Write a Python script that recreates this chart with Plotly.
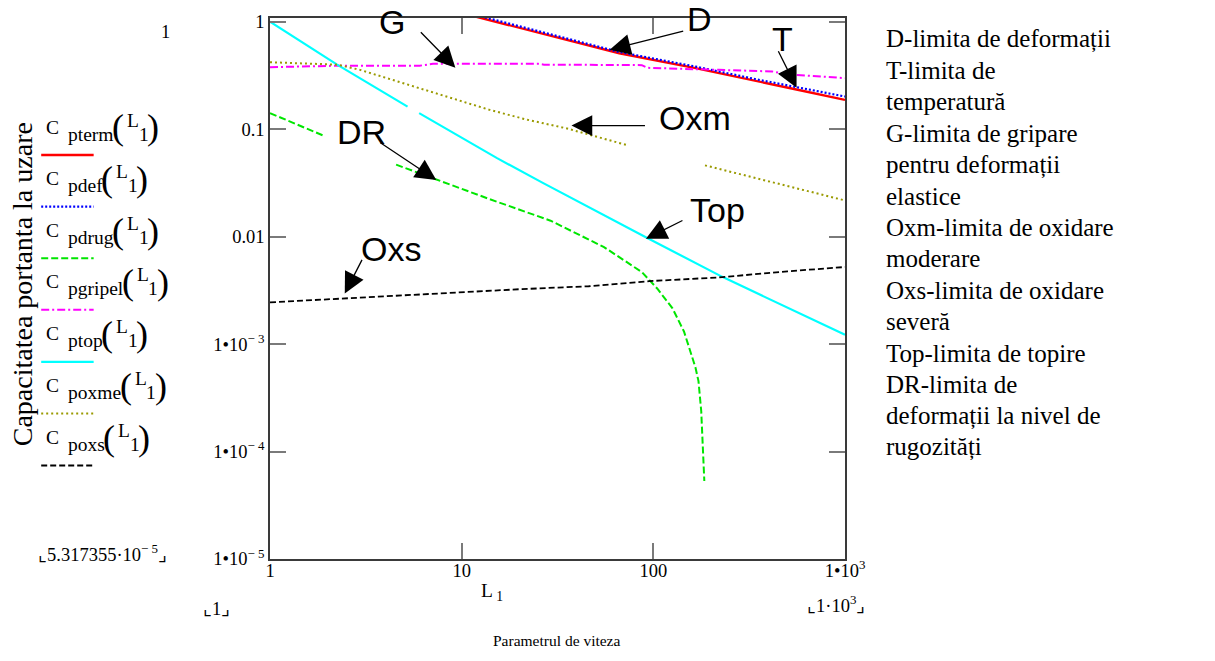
import math
import plotly.graph_objects as go

# ---------------- data ----------------
L_pterm = [10, 12.8, 31.6, 66.4, 166, 347, 550, 1000]
C_pterm = [1.202, 1.074, 0.708, 0.508, 0.369, 0.277, 0.235, 0.187]

L_pdef = [10, 12.6, 31.6, 66.4, 166, 347, 550, 1000]
C_pdef = [1.245, 1.122, 0.733, 0.522, 0.382, 0.290, 0.248, 0.201]

L_pdrug = [1, 1.91, None, 4.55, 7.36, 14.0, 29.1, 55.3, 87.1, 104.7, 125.9, 144.5, 166, 172, 177.8, 182, 184.5]
C_pdrug = [0.141, 0.0867, None, 0.0467, 0.0339, 0.0223, 0.01406, 0.00798, 0.00468, 0.00329, 0.00215,
           0.00131, 0.000603, 0.000452, 0.000237, 0.000102, 0.00005317355]

L_pgripel = [1, 2.24, 6.03, 7.08, 25.1, 26.9, 87.1, 93.3, 219, 417, 501, 1000]
C_pgripel = [0.377, 0.389, 0.389, 0.405, 0.405, 0.398, 0.394, 0.372, 0.356, 0.344, 0.324, 0.298]

L_ptop = [1, 2.24, 5.22, None, 6.0, 15.3, 26.5, 42.0, 91.4, 229, 1000]
C_ptop = [1, 0.398, 0.162, None, 0.141, 0.0537, 0.0316, 0.0204, 0.00986, 0.00422, 0.00122]

L_poxme = [1, 1.63, 2.24, 2.95, 4.06, 7.03, 14.0, 22.1, 35.0, 72.1, None, 186, 398, 1000]
C_poxme = [0.419, 0.410, 0.398, 0.356, 0.298, 0.219, 0.151, 0.122, 0.102, 0.0714, None, 0.046, 0.0328, 0.0217]

L_poxs = [1, 2.455, 8.07, 20.2, 46.0, 95.5, 219, 501, 1000]
C_poxs = [0.002443, 0.00266, 0.00296, 0.00324, 0.00345, 0.00385, 0.00417, 0.00475, 0.00521]

x_tickvals = [1, 10, 100, 1000]
x_ticktext = ["1", "10", "100", "1\u202210<sup>3</sup>"]
y_tickvals = [1, 0.1, 0.01, 0.001, 0.0001, 0.00001]
y_ticktext = ["1", "0.1", "0.01", "1\u202210<sup>\u2212 3</sup>",
              "1\u202210<sup>\u2212 4</sup>", "1\u202210<sup>\u2212 5</sup>"]

series_names = ["pterm", "pdef", "pdrug", "pgripel", "ptop", "poxme", "poxs"]

arrow_labels = ["G", "D", "T", "Oxm", "DR", "Top", "Oxs"]
arrow_tip_L = [9.27, 59.2, 559, 37.4, 7.37, 91.5, 2.455]
arrow_tip_C = [0.373, 0.547, 0.243, 0.108, 0.0336, 0.00955, 0.00296]

notes = ["D-limita de deformații", "T-limita de", "temperatură", "G-limita de gripare",
         "pentru deformații", "elastice", "Oxm-limita de oxidare", "moderare",
         "Oxs-limita de oxidare", "severă", "Top-limita de topire", "DR-limita de",
         "deformații la nivel de", "rugozități"]

# ---------------- styles / layout geometry ----------------
W_FIG, H_FIG = 1215, 661
PL, PR, PT, PB = 269.5, 845.0, 15.0, 559.0
PW, PH = PR - PL, PB - PT


def pxx(p):
    return (p - PL) / PW


def pxy(p):
    return (PB - p) / PH


styles = [
    dict(color="#FF0000", width=2.4, dash="solid"),
    dict(color="#0000FF", width=2.2, dash="2px,2px"),
    dict(color="#00E600", width=2.0, dash="7px,3px"),
    dict(color="#FF00FF", width=2.0, dash="8px,3px,2px,3px"),
    dict(color="#00FFFF", width=2.2, dash="solid"),
    dict(color="#9A9A00", width=2.0, dash="2px,3px"),
    dict(color="#000000", width=1.8, dash="6px,3px"),
]
xs = [L_pterm, L_pdef, L_pdrug, L_pgripel, L_ptop, L_poxme, L_poxs]
ys = [C_pterm, C_pdef, C_pdrug, C_pgripel, C_ptop, C_poxme, C_poxs]

fig = go.Figure()
for name, x, y, st in zip(series_names, xs, ys, styles):
    fig.add_trace(go.Scatter(x=x, y=y, mode="lines", name=name, line=st,
                             connectgaps=False, showlegend=False))

SERIF = "Liberation Serif, Times New Roman, serif"
SANS = "Liberation Sans, Arial, sans-serif"

axis_common = dict(
    type="log", showgrid=False, zeroline=False, showline=True, mirror="ticks",
    linecolor="#3a3a3a", linewidth=1.5, ticks="inside", ticklen=16, tickwidth=1.5,
    tickcolor="#7a7a7a", tickmode="array",
    tickfont=dict(family=SERIF, size=18.5, color="black"),
)
fig.update_xaxes(range=[0, 3], tickvals=x_tickvals, ticktext=x_ticktext,
                 ticklabelstandoff=-6, **axis_common)
fig.update_yaxes(range=[-5, 0.034], tickvals=y_tickvals, ticktext=y_ticktext, **axis_common)

ann = []
shapes = []


def label(px, py, text, size, family=SERIF, xanchor="center", angle=0):
    ann.append(dict(x=pxx(px), y=pxy(py), xref="paper", yref="paper", text=text,
                    showarrow=False, xanchor=xanchor, yanchor="middle", textangle=angle,
                    font=dict(family=family, size=size, color="black")))


# arrows with labels
for lab, tl, tc, ax, ay, xs_, ys_ in zip(
        arrow_labels, arrow_tip_L, arrow_tip_C,
        [-36, 75, -19, 75, -57, 38, 18],
        [-37, -19, -38, 0, -38, -19, -35],
        [-63, 90, -14, 124, -75, 72, 46],
        [46, 31, 49, 8, 48, 29, 44]):
    ann.append(dict(x=math.log10(tl), y=math.log10(tc), xref="x", yref="y", text="",
                    showarrow=True, arrowhead=2, arrowsize=3.2, arrowwidth=1.3,
                    arrowcolor="black", ax=ax, ay=ay, standoff=0))
    ann.append(dict(x=math.log10(tl), y=math.log10(tc), xref="x", yref="y", text=lab,
                    showarrow=False, xshift=xs_, yshift=ys_, xanchor="center", yanchor="middle",
                    font=dict(family=SANS, size=34, color="black")))

# left legend block (Mathcad style)
TW = {"p": .5, "t": .278, "e": .444, "r": .333, "m": .778, "d": .5, "f": .333, "u": .5,
      "g": .5, "i": .278, "l": .278, "o": .5, "x": .5, "s": .389}
FS = 19.5
leg_line_y = [152.7, 204.7, 256.7, 308.3, 360.7, 412.7, 465.0]
for name, st, ly in zip(series_names, styles, leg_line_y):
    name_end = 65.5 + sum(TW[c] for c in name) * FS
    label(51.5, ly - 28, "C", FS)
    label(65.5, ly - 21, name, FS, xanchor="left")
    label(name_end + 6.5, ly - 28, "(", 36)
    label(name_end + 21.5, ly - 35, "L", FS)
    label(name_end + 32, ly - 21, "1", FS)
    label(name_end + 41.5, ly - 28, ")", 36)
    shapes.append(dict(type="line", xref="paper", yref="paper", x0=pxx(40.5), x1=pxx(93),
                       y0=pxy(ly), y1=pxy(ly), line=st))

# axis titles and Mathcad range markers
label(22, 283, "Capacitatea portanta la uzare", 28, angle=-90)
label(165, 29, "1", 18.5)
label(102, 553, "\u231E5.317355\u00b710<sup>\u2212 5</sup>\u231F", 18.5)
label(492, 592, "L<sub> 1</sub>", 19.5)
label(216, 609, "\u231E1\u231F", 18.5)
label(836, 604, "\u231E1\u00b710<sup>3</sup>\u231F", 18.5)
label(557, 641, "Parametrul de viteza", 15.5)

# right-hand explanation text
for i, line in enumerate(notes):
    label(884, 36 + i * 31.6, line, 25, xanchor="left")

fig.update_layout(
    width=W_FIG, height=H_FIG,
    margin=dict(l=PL, r=W_FIG - PR, t=PT, b=H_FIG - PB, pad=0),
    paper_bgcolor="white", plot_bgcolor="white",
    showlegend=False, annotations=ann, shapes=shapes,
)

fig.write_html("out.html", config={"displayModeBar": False},
               post_script="document.body.style.margin='0px';")
